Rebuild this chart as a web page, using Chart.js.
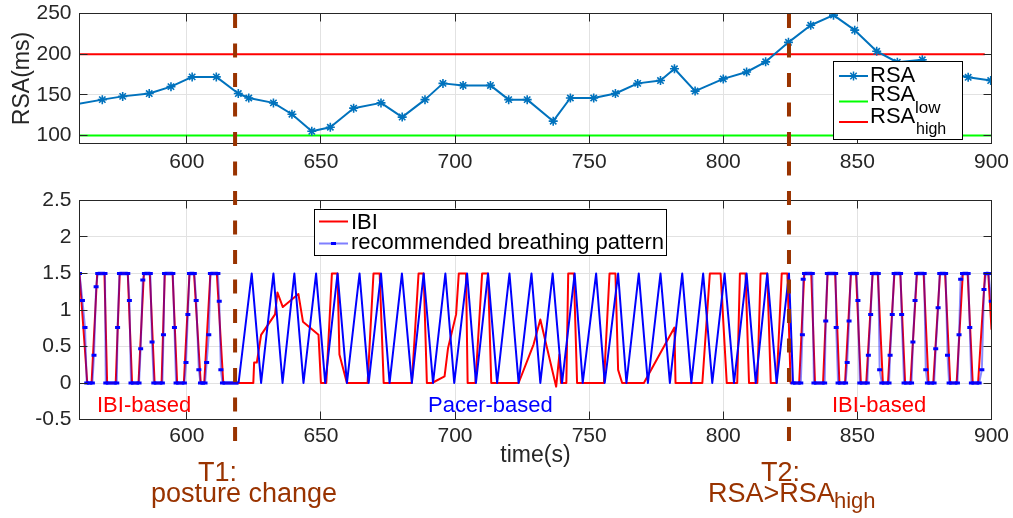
<!DOCTYPE html>
<html><head><meta charset="utf-8">
<script src="https://cdn.jsdelivr.net/npm/chart.js@4.4.0/dist/chart.umd.min.js"></script>
<style>
html,body{margin:0;padding:0;background:#fff;}
body{width:1013px;height:518px;position:relative;overflow:hidden;font-family:"Liberation Sans",Arial,Helvetica,sans-serif;}
#c1{position:absolute;left:0;top:0;width:1013px;height:180px;}
#c2{position:absolute;left:0;top:180px;width:1013px;height:338px;}
.t{position:absolute;white-space:nowrap;line-height:1;}
.box{position:absolute;border:1px solid #000;background:#fff;box-sizing:border-box;}
</style></head><body>
<canvas id="c1" width="1013" height="180"></canvas>
<canvas id="c2" width="1013" height="338"></canvas>

<div class="box" style="left:833px;top:61px;width:130px;height:79px;"></div>
<div class="box" style="left:314px;top:209px;width:353px;height:47px;"></div>
<svg style="position:absolute;left:0;top:0;" width="1013" height="518">
  <line x1="839" y1="76" x2="868" y2="76" stroke="#0072BD" stroke-width="2"/>
  <g stroke="#0072BD" stroke-width="1.5">
    <line x1="849" y1="76" x2="858" y2="76"/><line x1="853.5" y1="71.5" x2="853.5" y2="80.5"/>
    <line x1="850.3" y1="72.8" x2="856.7" y2="79.2"/><line x1="850.3" y1="79.2" x2="856.7" y2="72.8"/>
  </g>
  <line x1="839" y1="101.5" x2="868" y2="101.5" stroke="#00FF00" stroke-width="2"/>
  <line x1="839" y1="122" x2="868" y2="122" stroke="#FF0000" stroke-width="2"/>
  <line x1="319" y1="221.5" x2="348" y2="221.5" stroke="#FF0000" stroke-width="2"/>
  <line x1="319" y1="243.5" x2="348" y2="243.5" stroke="rgba(0,0,255,0.5)" stroke-width="2"/>
  <rect x="331" y="242" width="5" height="3" fill="#0000FF"/>
</svg>

<div class="t" style="left:870px;top:64px;font-size:22px;color:#000;">RSA</div>
<div class="t" style="left:870px;top:83px;font-size:22px;color:#000;">RSA</div>
<div class="t" style="left:915px;top:98.6px;font-size:17px;color:#000;">low</div>
<div class="t" style="left:870px;top:105px;font-size:22px;color:#000;">RSA</div>
<div class="t" style="left:916px;top:120.5px;font-size:16px;color:#000;">high</div>

<div class="t" style="left:351px;top:210.7px;font-size:22px;color:#000;">IBI</div>
<div class="t" style="left:351px;top:231.4px;font-size:22px;color:#000;">recommended breathing pattern</div>

<div class="t" style="left:97px;top:394.4px;font-size:22px;color:#FF0000;">IBI-based</div>
<div class="t" style="left:428px;top:394.4px;font-size:22px;color:#0000FF;">Pacer-based</div>
<div class="t" style="left:832px;top:394.4px;font-size:22px;color:#FF0000;">IBI-based</div>

<div class="t" style="left:198px;top:458.5px;font-size:27px;color:#993300;">T1:</div>
<div class="t" style="left:151px;top:480px;font-size:27px;color:#993300;">posture change</div>
<div class="t" style="left:761px;top:458.5px;font-size:27px;color:#993300;">T2:</div>
<div class="t" style="left:708px;top:480px;font-size:27px;color:#993300;">RSA&gt;RSA</div>
<div class="t" style="left:834px;top:490.4px;font-size:22px;color:#993300;">high</div>

<script>
// ---------------- data ----------------
const xTicks = [600, 650, 700, 750, 800, 850, 900];
const rsaTicks = [100, 150, 200, 250];
const sigTicks = [-0.5, 0, 0.5, 1, 1.5, 2, 2.5];
const events = [618, 824.5]; // T1, T2

const rsaT = [553,568.5,576.1,586,594.1,602,611,619.2,623.1,632.3,639.2,646.6,653.5,662.2,672.4,680.3,688.8,695.5,703,713.2,720,726.9,736.6,743,751.7,759.8,768.1,776.6,781.8,789.5,800,808.7,815.8,824.3,832.6,841.1,849,857.2,864.9,874.2,882.3,891.3,899.7];
const rsaV = [135,144,148,151.5,160,172,172,151.5,146,140,126,105,110,133.5,140,122.5,144,164,161.5,161.5,144,144,117.5,146,146,151.5,164,167.5,182,154.5,169.5,178,190.5,214.5,235.5,248,229.5,203.5,190,193,178,171.5,167.5];
const lowT = [560, 900], lowV = [100, 100];
const highT = [560, 897.5], highV = [200, 200];

const blueIbiLeft = [[560,1.5],[561.1,1.13],[562.05,0.76],[562.7,0],[564.8,0],[565.4,0.38],[566.2,1.32],[566.8,1.5],[569.5,1.5],[569.8,0],[573.9,0],[574.2,0.76],[574.9,1.5],[578,1.5],[578.6,1.13],[579.2,0],[582.2,0],[582.8,0.47],[583.6,1.41],[584.2,1.5],[586.4,1.5],[587.05,0.56],[587.7,0],[590.9,0],[591.3,0.66],[591.7,1.5],[594.8,1.5],[595.4,0.76],[596,0],[599.1,0],[599.7,0.28],[600.4,0.94],[601,1.5],[602.8,1.5],[603.5,1.13],[604.5,0.18],[605.1,0],[606.8,0],[607.4,0.28],[608.2,0.66],[608.8,1.5],[611.6,1.5],[612.1,1.12],[612.7,0.18],[613.3,0],[619.3,0]];
const bluePacer = [[624.2,1.5],[627.7,0],[632.3,1.5],[635.7,0],[640.1,1.5],[643.5,0],[648.2,1.5],[651.6,0],[656.2,1.5],[659.7,0],[664.4,1.5],[667.8,0],[672.4,1.5],[675.6,0],[680.2,1.5],[683.9,0],[688.3,1.5],[691.8,0],[696.4,1.5],[699.7,0],[704.5,1.5],[707.8,0],[712.3,1.5],[715.7,0],[720.3,1.5],[723.7,0],[728.5,1.5],[731.8,0],[736.4,1.5],[739.9,0],[744.6,1.5],[747.6,0],[752.6,1.5],[755.8,0],[760.8,1.5],[763.9,0],[768.5,1.5],[771.9,0],[776.6,1.5],[780.1,0],[784.7,1.5],[788.1,0],[792.5,1.5],[795.9,0],[800.5,1.5],[804,0],[808.7,1.5],[812.1,0],[816.4,1.5],[819.9,0],[824.5,1.5],[826,0]];
const blueIbiRight = [[828.9,0],[829.5,0.66],[829.8,1.42],[830.3,1.5],[833.2,1.5],[833.8,0],[837.8,0],[838.2,0.85],[838.8,1.5],[841.9,1.5],[842.1,0.76],[842.8,0],[845.6,0],[846.2,0.28],[846.9,0.85],[847.5,1.5],[849.6,1.5],[850.2,1.13],[850.9,0],[853.7,0],[854.1,0.38],[854.95,0.94],[855.6,1.5],[857.8,1.5],[858.3,0.18],[859.1,0],[861.8,0],[862.2,0.38],[863,0.94],[863.7,1.5],[866.1,1.5],[866.5,0.94],[867.4,0],[870.2,0],[870.7,0.56],[871.5,1.13],[872.1,1.5],[874.9,1.5],[875.5,0.18],[876.1,0],[878.6,0],[879.2,0.47],[880.1,1.03],[880.7,1.5],[882.9,1.5],[883.6,0.38],[884.2,0],[887.3,0],[887.9,0.66],[888.5,1.42],[889.2,1.5],[891.3,1.5],[891.9,0.76],[892.5,0],[895.4,0],[896.4,0.18],[897.2,1.28],[897.9,1.5],[898.9,1.5],[899.9,1.12]];

const ibiLeft = [[560,1.5],[562.9,0],[564.5,0],[566.6,1.5],[569.3,1.5],[570.3,0],[573.5,0],[575,1.5],[578,1.5],[579.6,0],[582,0],[584,1.5],[586.2,1.5],[588,0],[590.6,0],[591.8,1.5],[594.7,1.5],[596.4,0],[598.9,0],[601,1.5],[602.7,1.5],[605.2,0],[606.5,0],[608.8,1.5],[611.2,1.5],[613.6,0]];
const ibiMid = [[624.8,0],[625.1,0.28],[626.1,0.28],[627.7,0.66],[632.9,0.94],[633.8,1.24],[635.8,1.04],[641.6,1.22],[643.3,0.84],[649.1,0.66],[650,0],[652,0],[654.1,1.5],[656.2,1.5],[656.9,0.39],[659.7,0],[667.4,0],[669.6,1.5],[671.9,1.5],[673.4,0],[683.9,0],[686.4,1.5],[688.3,1.5],[689.5,0],[691.4,0],[696.1,0.09],[697.4,0.48],[700.4,0.94],[701.4,1.5],[704.1,1.5],[704.7,0],[707.6,0],[710.1,1.5],[712.3,1.5],[713.5,0],[723.7,0],[729.3,0.53],[731.8,0.87],[737.7,-0.05],[738.9,0.39],[739.5,0],[741.5,0],[742.2,1.5],[744.3,1.5],[745.5,0],[755.5,0],[757.6,1.5],[759.8,1.5],[760.8,0.18],[762.3,0],[770.4,0],[781.8,0.76],[782.2,0],[792.2,0],[795,1.5],[799,1.5],[801.3,0],[805.2,0],[806.2,1.5],[808.3,1.5],[809.6,0],[812.7,0],[813.9,1.5],[816.4,1.5],[817.7,0],[819.9,0],[821.8,1.5],[823.9,1.5],[825.1,0]];
const ibiRight = [[828.3,0],[830.2,1.5],[832.8,1.5],[834.2,0],[837.2,0],[838.9,1.5],[841.7,1.5],[843.3,0],[845.4,0],[847.6,1.5],[849.5,1.5],[851.3,0],[853.3,0],[855.7,1.5],[857.6,1.5],[859.5,0],[861.4,0],[863.8,1.5],[866,1.5],[867.8,0],[869.8,0],[872.2,1.5],[874.7,1.5],[876.5,0],[878.3,0],[880.8,1.5],[882.7,1.5],[884.6,0],[887,0],[889.3,1.5],[891.1,1.5],[893,0],[895,0],[897.6,1.5],[898.8,1.5],[900,0.73]];

// ---------------- helpers ----------------
const FONT = '"Liberation Sans", Arial, Helvetica, sans-serif';
const AX = '#262626';
const GRID = '#e2e2e2';
const pts = (T, V) => T.map((t, i) => ({x: t, y: V[i]}));
const pairs = arr => arr.map(p => ({x: p[0], y: p[1]}));
const setTicks = list => (s => { s.ticks = list.map(v => ({value: v})); });
const noPad = s => { s.paddingTop = 0; s.paddingBottom = 0; s.paddingLeft = 0; s.paddingRight = 0; };

function framePlugin(o) {
  return {
    id: 'frame',
    afterDatasetsDraw(chart) {
      const {ctx, chartArea: a, scales: {x, y}} = chart;
      const L = a.left, R = a.right, T = a.top, B = a.bottom, tl = 8;
      ctx.save();
      ctx.strokeStyle = AX; ctx.lineWidth = 1;
      ctx.beginPath();
      x.ticks.forEach(t => {
        const px = Math.round(x.getPixelForValue(t.value) - 0.5) + 0.5;
        ctx.moveTo(px, B); ctx.lineTo(px, B - tl);
        ctx.moveTo(px, T); ctx.lineTo(px, T + tl);
      });
      y.ticks.forEach(t => {
        const py = Math.round(y.getPixelForValue(t.value) - 0.5) + 0.5;
        ctx.moveTo(L, py); ctx.lineTo(L + tl, py);
        ctx.moveTo(R, py); ctx.lineTo(R - tl, py);
      });
      ctx.stroke();
      ctx.strokeRect(L, T, R - L, B - T);
      ctx.strokeStyle = '#993300'; ctx.lineWidth = 4;
      ctx.setLineDash([14, 15.5]); ctx.lineDashOffset = o.dashOffset;
      events.forEach(ev => {
        const px = x.getPixelForValue(ev);
        ctx.beginPath(); ctx.moveTo(px, o.y0); ctx.lineTo(px, o.y1); ctx.stroke();
      });
      ctx.restore();
    }
  };
}

function xScale(h, pad, title) {
  return {
    type: 'linear', min: 560, max: 900,
    afterBuildTicks: setTicks(xTicks),
    afterFit: s => { s.height = h; noPad(s); },
    grid: {color: GRID, drawTicks: false},
    border: {display: false},
    ticks: {color: AX, padding: pad, font: {family: FONT, size: 21}, callback: v => String(v)},
    title: title || {display: false}
  };
}

Chart.defaults.font.family = FONT;
Chart.defaults.elements.line.borderJoinStyle = 'round';

// ---------------- top chart ----------------
new Chart(document.getElementById('c1'), {
  type: 'line',
  data: {
    datasets: [
      {label: 'RSA', data: pts(rsaT, rsaV), borderColor: '#0072BD', backgroundColor: '#0072BD',
       borderWidth: 2, pointStyle: 'star', pointRadius: 4.5, pointBorderWidth: 1.6, pointBorderColor: '#0072BD', tension: 0},
      {label: 'RSA_low', data: pts(lowT, lowV), borderColor: '#00FF00', borderWidth: 2, pointRadius: 0},
      {label: 'RSA_high', data: pts(highT, highV), borderColor: '#FF0000', borderWidth: 2, pointRadius: 0}
    ]
  },
  options: {
    responsive: false, animation: false, devicePixelRatio: 1,
    layout: {padding: {left: 0, right: 21.5, top: 13.5, bottom: 0}},
    plugins: {legend: {display: false}, tooltip: {enabled: false}},
    scales: {
      x: xScale(36.5, 6),
      y: {
        type: 'linear', min: 90, max: 250,
        afterBuildTicks: setTicks(rsaTicks),
        afterFit: s => { s.width = 79.5; noPad(s); },
        grid: {color: GRID, drawTicks: false},
        border: {display: false},
        ticks: {color: AX, padding: 8, font: {family: FONT, size: 21}},
        title: {display: true, text: 'RSA(ms)', color: AX, font: {family: FONT, size: 23}, padding: {top: 9, bottom: 0}}
      }
    }
  },
  plugins: [framePlugin({y0: 14, y1: 180, dashOffset: 0})]
});

// ---------------- bottom chart ----------------
const inIbi = x => x < 619 || x > 825.5;
new Chart(document.getElementById('c2'), {
  type: 'line',
  data: {
    datasets: [
      {label: 'IBI', order: 2, data: pairs(ibiLeft.concat(ibiMid, ibiRight)), borderColor: '#FF0000',
       borderWidth: 2, pointRadius: 0, tension: 0},
      {label: 'recommended breathing pattern', order: 1,
       data: pairs(blueIbiLeft.concat(bluePacer, blueIbiRight)),
       borderColor: '#0000FF', borderWidth: 2, tension: 0,
       pointStyle: 'line', pointBorderColor: '#0000FF', pointBorderWidth: 3,
       pointRadius: c => (c.parsed && inIbi(c.parsed.x)) ? 2.5 : 0,
       segment: {
         borderColor: c => {
           if (!inIbi(c.p0.parsed.x)) return '#0000FF';
           return c.p0.parsed.y === c.p1.parsed.y ? 'rgba(0,0,255,0.9)' : 'rgba(0,0,255,0.45)';
         },
         borderWidth: c => (inIbi(c.p0.parsed.x) && c.p0.parsed.y === c.p1.parsed.y) ? 3.5 : 2
       }}
    ]
  },
  options: {
    responsive: false, animation: false, devicePixelRatio: 1,
    layout: {padding: {left: 0, right: 21.5, top: 20.5, bottom: 0}},
    plugins: {legend: {display: false}, tooltip: {enabled: false}},
    scales: {
      x: xScale(98.5, 4, {display: true, text: 'time(s)', color: AX, font: {family: FONT, size: 23}, padding: {top: 0, bottom: 49}}),
      y: {
        type: 'linear', min: -0.5, max: 2.5,
        afterBuildTicks: setTicks(sigTicks),
        afterFit: s => { s.width = 79.5; noPad(s); },
        grid: {color: GRID, drawTicks: false},
        border: {display: false},
        ticks: {color: AX, padding: 8, font: {family: FONT, size: 21}, callback: v => String(v)}
      }
    }
  },
  plugins: [framePlugin({y0: 0, y1: 261, dashOffset: 18.5})]
});
</script>
</body></html>
